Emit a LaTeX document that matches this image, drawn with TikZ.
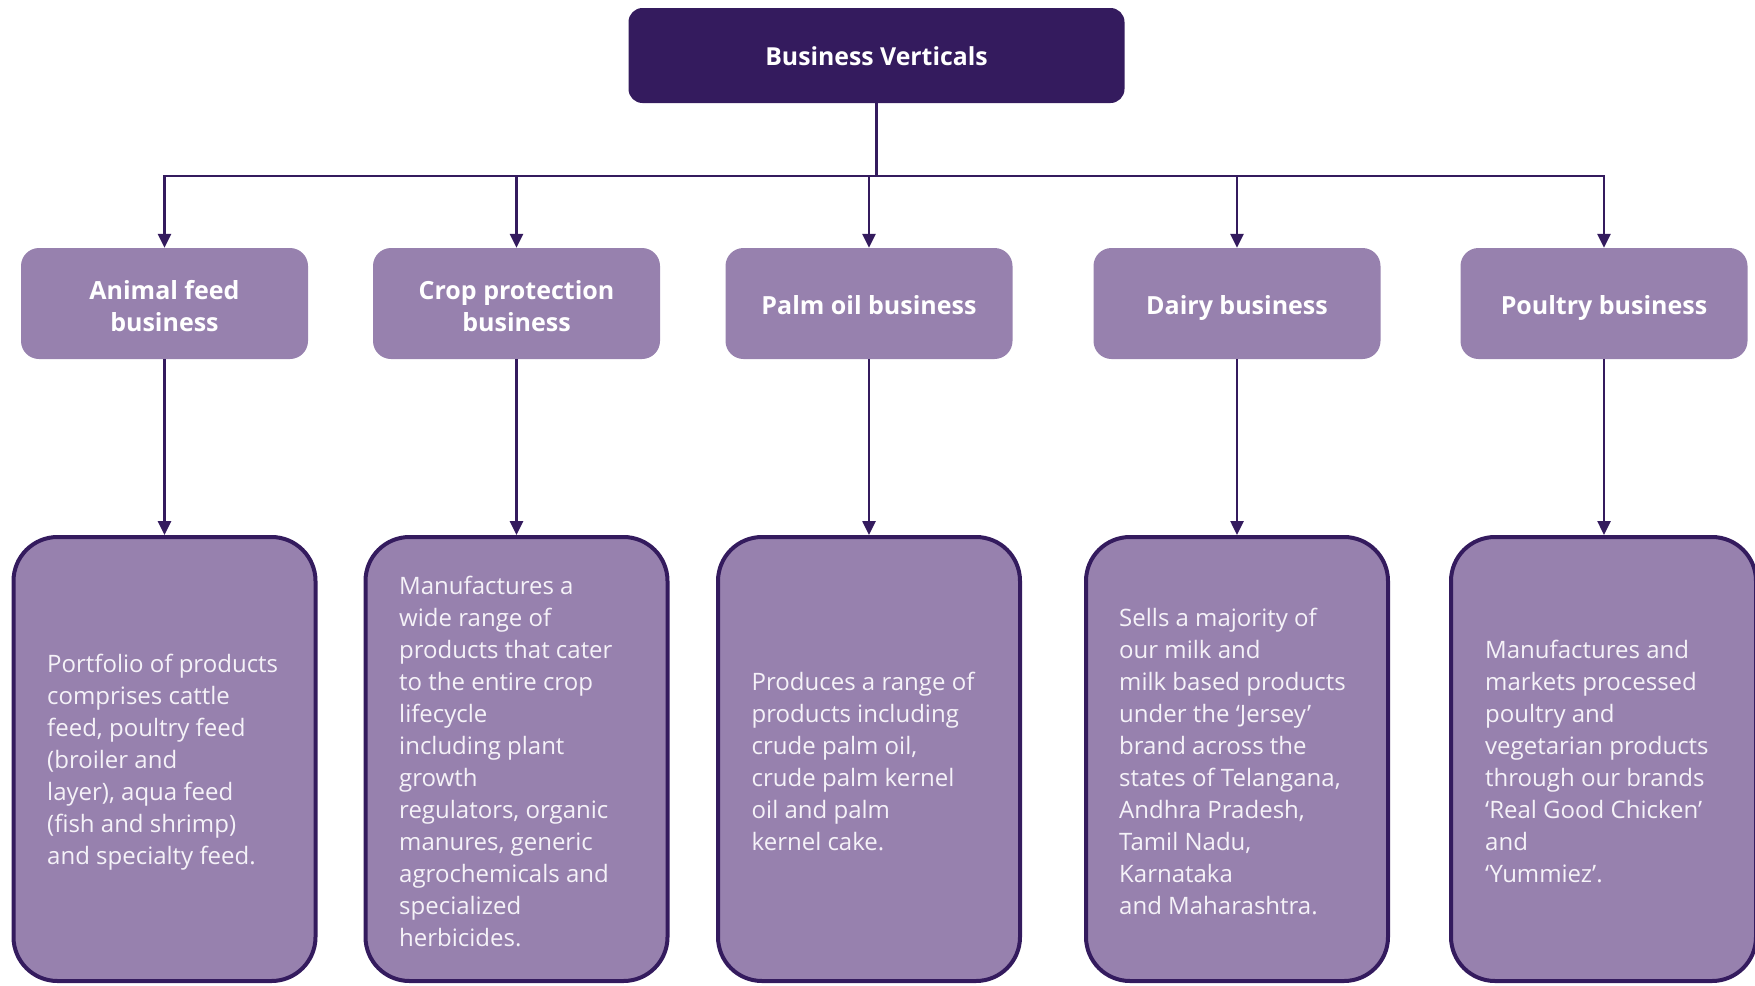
\documentclass[tikz,border=0pt]{standalone}
\usepackage{fontspec}
\setmainfont{Open Sans}
\usetikzlibrary{arrows.meta}
\definecolor{dark}{RGB}{52,27,94}
\definecolor{mid}{RGB}{151,129,174}
\definecolor{bodytxt}{RGB}{245,242,248}
\tikzset{
  topbox/.style={draw=none,fill=dark,rounded corners=14pt,minimum width=496pt,minimum height=95pt,inner sep=0pt},
  toplabel/.style={inner sep=0pt,text=white,font=\bfseries\fontsize{24.8}{30}\selectfont},
  midbox/.style={draw=none,fill=mid,rounded corners=18pt,minimum width=287pt,minimum height=111pt,inner sep=0pt},
  midlabel/.style={inner sep=0pt,text=white,align=center,font=\bfseries\fontsize{25}{32}\selectfont},
  botbox/.style={draw=dark,line width=4pt,fill=mid,rounded corners=44pt,minimum width=302pt,minimum height=444pt,inner sep=0pt},
  bodytext/.style={anchor=west,align=left,text=bodytxt,inner sep=0pt,font=\fontsize{24}{32}\selectfont},
  conn/.style={draw=dark,line width=2.6pt},
  arr/.style={conn,-{Triangle[length=14pt,width=13pt]}}
}
\begin{document}
\begin{tikzpicture}[x=1pt,y=-1pt]
\useasboundingbox (0,0) rectangle (1755,985);
\node[topbox] (top) at (876.5,55.5) {};
\node[toplabel] (toplab) at ([yshift=-1pt]top.center) {Business Verticals};
\coordinate (bus) at (876.5,176);
% middle boxes
\node[midbox] (m1) at (164.5,303.5) {};
\node[midbox] (m2) at (516.5,303.5) {};
\node[midbox] (m3) at (869,303.5) {};
\node[midbox] (m4) at (1237,303.5) {};
\node[midbox] (m5) at (1604,303.5) {};
\node[midlabel] (l1) at ([yshift=-2.2pt]m1.center) {Animal feed\\business};
\node[midlabel] (l2) at ([yshift=-2.2pt]m2.center) {Crop protection\\business};
\node[midlabel] (l3) at ([yshift=-1.2pt]m3.center) {Palm oil business};
\node[midlabel] (l4) at ([yshift=-4.5pt]m4.center) {Dairy business};
\node[midlabel] (l5) at ([yshift=-4.5pt]m5.center) {Poultry business};
% bottom boxes
\node[botbox] (b1) at (164.5,759) {};
\node[botbox] (b2) at (516.5,759) {};
\node[botbox] (b3) at (869,759) {};
\node[botbox] (b4) at (1237,759) {};
\node[botbox,minimum width=305pt] (b5) at (1603.5,759) {};
% texts
\node[bodytext] (t1) at ([xshift=35.5pt,yshift=-3.5pt]b1.west) {Portfolio of products\\comprises cattle\\feed, poultry feed\\(broiler and\\layer), aqua feed\\(fish and shrimp)\\and specialty feed.};
\node[bodytext] (t2) at ([xshift=35.5pt,yshift=-2pt]b2.west) {Manufactures a\\wide range of\\products that cater\\to the entire crop\\lifecycle\\including plant\\growth\\regulators, organic\\manures, generic\\agrochemicals and\\specialized\\herbicides.};
\node[bodytext] (t3) at ([xshift=35.5pt,yshift=-2pt]b3.west) {Produces a range of\\products including\\crude palm oil,\\crude palm kernel\\oil and palm\\kernel cake.};
\node[bodytext] (t4) at ([xshift=35pt,yshift=-2pt]b4.west) {Sells a majority of\\our milk and\\milk based products\\under the ‘Jersey’\\brand across the\\states of Telangana,\\Andhra Pradesh,\\Tamil Nadu,\\Karnataka\\and Maharashtra.};
\node[bodytext] (t5) at ([xshift=36pt,yshift=-2pt]b5.west) {Manufactures and\\markets processed\\poultry and\\vegetarian products\\through our brands\\‘Real Good Chicken’\\and\\‘Yummiez’.};
% connectors
\draw[conn] (top.south) -- (bus);
\foreach \m in {m1,m2,m3,m4,m5} {
  \draw[arr] (bus) -| (\m.north);
}
\draw[arr] (m1.south) -- (b1.north);
\draw[arr] (m2.south) -- (b2.north);
\draw[arr] (m3.south) -- (b3.north);
\draw[arr] (m4.south) -- (b4.north);
\draw[arr] (m5.south) -- (m5.south |- b5.north);
\end{tikzpicture}
\end{document}
